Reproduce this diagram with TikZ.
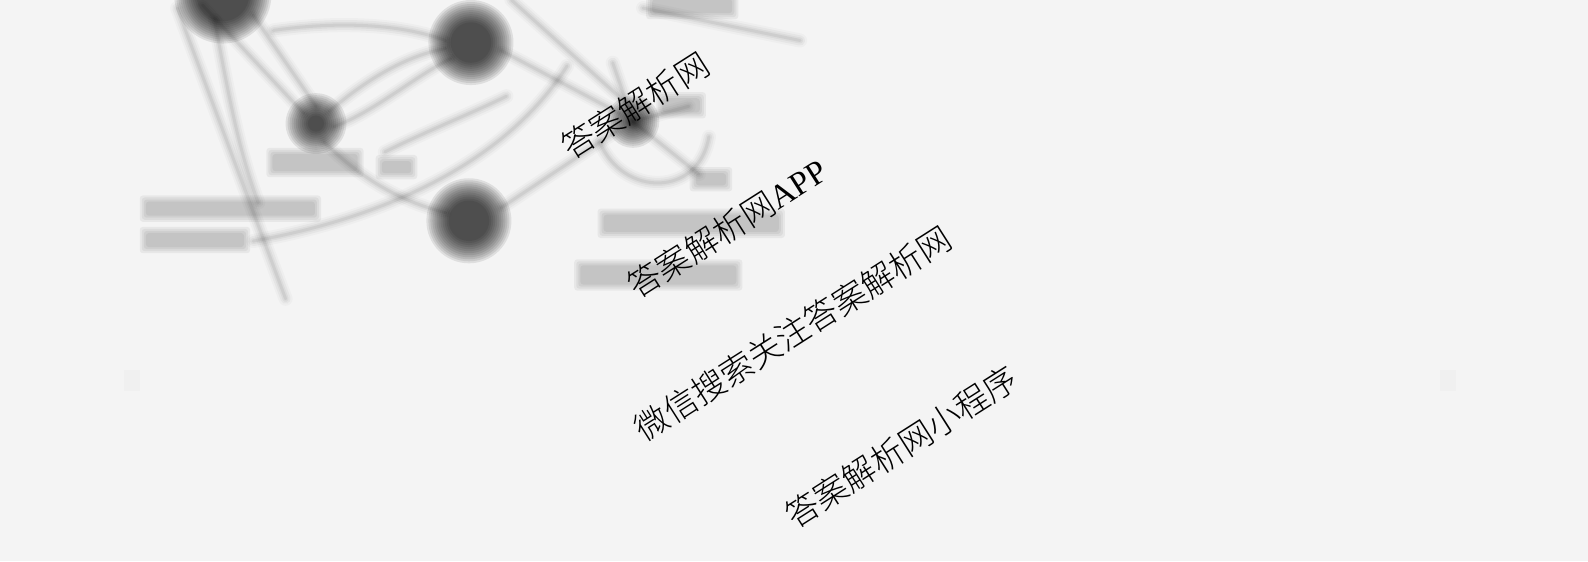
\documentclass[tikz,border=0pt]{standalone}
\usepackage{fontspec}
\newfontfamily\cjk{Noto Sans CJK SC}[UprightFont={* Light}]
\newfontfamily\latinserif{Liberation Serif}
\definecolor{bgc}{HTML}{F4F4F4}
\newcommand\bline[1]{\foreach \w/\o in {14/0.025,10/0.035,6/0.045,3/0.055}{\draw[black,line width=\w pt,opacity=\o,line cap=round] #1;}}
\newcommand\bblob[3]{\foreach \k in {0,...,11}{\fill[black,opacity=0.085] (#1,#2) circle ({#3+10-2*\k});}}
\newcommand\bbar[4]{\foreach \e in {7,5,3,1}{\fill[black,opacity=0.05,rounded corners=3pt] (#1-\e,#2-\e) rectangle (#3+\e,#4+\e);}}
\tikzset{wm/.style={font=\fontsize{33}{33}\selectfont, text=black, inner sep=0pt, rotate=32.5}}
\begin{document}
\begin{tikzpicture}[x=1pt,y=-1pt]
\fill[bgc] (0,0) rectangle (1568,554);
\useasboundingbox (0,0) rectangle (1568,554);
% blurred background network
\bline{(175,8) -- (282,295)}
\bline{(200,5) -- (300,112)}
\bline{(250,15) -- (312,105)}
\bline{(270,30) .. controls (340,20) and (400,25) .. (440,40)}
\bline{(325,110) .. controls (360,80) and (400,55) .. (440,48)}
\bline{(330,125) .. controls (370,110) and (410,75) .. (445,58)}
\bline{(320,140) .. controls (360,180) and (400,200) .. (440,210)}
\bline{(495,50) -- (612,112)}
\bline{(495,205) -- (608,130)}
\bline{(505,0) -- (622,105)}
\bline{(635,8) -- (790,40)}
\bline{(250,238) .. controls (380,215) and (500,160) .. (560,65)}
\bline{(380,150) .. controls (420,130) and (470,110) .. (500,95)}
\bline{(592,140) .. controls (615,195) and (690,195) .. (700,135)}
\bline{(625,120) -- (690,172)}
\bline{(625,120) -- (605,62)}
\bline{(625,120) -- (680,105)}
\bline{(212,20) .. controls (230,120) and (240,160) .. (255,200)}
\bblob{220}{-5}{38}
\bblob{465}{42}{32}
\bblob{312}{122}{20}
\bblob{463}{218}{32}
\bblob{625}{120}{16}
\bbar{145}{200}{310}{212}
\bbar{145}{231}{240}{243}
\bbar{270}{153}{352}{168}
\bbar{378}{160}{405}{170}
\bbar{597}{213}{768}{228}
\bbar{574}{263}{726}{280}
\bbar{688}{172}{716}{182}
\bbar{645}{0}{722}{12}
\bbar{655}{98}{690}{110}
\foreach \cx in {130,1430}{\fill[black,opacity=0.015] (\cx-8,365) rectangle (\cx+8,386);}
% watermark texts
\node[wm] (t1) at (627,104) {\cjk 答案解析网};
\node[wm] (t2) at (718,225) {\cjk 答案解析网\latinserif APP};
\node[wm] (t3) at (783,329) {\cjk 微信搜索关注答案解析网};
\node[wm] (t4) at (890,441) {\cjk 答案解析网小程序};
\end{tikzpicture}
\end{document}
